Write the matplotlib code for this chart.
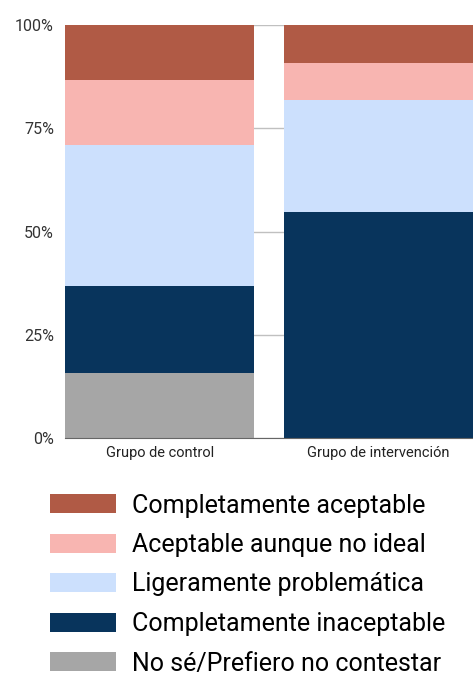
import matplotlib
matplotlib.use("Agg")
import matplotlib.pyplot as plt
import numpy as np

plt.rcParams['font.family'] = ['Roboto', 'DejaVu Sans']

groups = ['Grupo de control', 'Grupo de intervención']
categories = ['No sé/Prefiero no contestar', 'Completamente inaceptable',
              'Ligeramente problemática', 'Aceptable aunque no ideal',
              'Completamente aceptable']
no_se = [0.157, 0.0]
inaceptable = [0.211, 0.547]
ligeramente = [0.341, 0.271]
aceptable_no_ideal = [0.158, 0.090]
aceptable = [0.133, 0.092]
colors = ['#A6A6A6', '#08345C', '#CCE0FD', '#F8B5B1', '#B05A45']

series = [no_se, inaceptable, ligeramente, aceptable_no_ideal, aceptable]

fig = plt.figure(figsize=(4.73, 6.77), dpi=100)
ax = fig.add_axes([65/473, 1-438/677, 408/473, 413/677])

x = np.arange(len(groups))
bottom = np.zeros(len(groups))
handles = []
for vals, col, lab in zip(series, colors, categories):
    b = ax.bar(x, vals, bottom=bottom, width=0.867, color=col, label=lab, zorder=2)
    handles.append(b)
    bottom += np.array(vals)

ax.set_xlim(-0.4335, 1.4335)
ax.set_ylim(0, 1)
ax.set_yticks([0, 0.25, 0.5, 0.75, 1.0])
ax.set_yticklabels(['0%', '25%', '50%', '75%', '100%'], fontsize=11.5, color='#333333')
ax.set_xticks(x)
ax.set_xticklabels(groups, fontsize=10.5, color='#222222')
ax.tick_params(length=0, pad=6)
ax.tick_params(axis='y', pad=8)
ax.grid(axis='y', color='#C0C0C0', linewidth=1, zorder=0)
for s in ['top', 'right', 'left']:
    ax.spines[s].set_visible(False)
ax.spines['bottom'].set_color('#666666')
ax.spines['bottom'].set_zorder(3)

fig.legend(handles[::-1], categories[::-1], loc='upper left',
           bbox_to_anchor=(37/473, 1-481/677), frameon=False, fontsize=18,
           handlelength=2.65, handleheight=0.8, handletextpad=0.65,
           labelspacing=0.62, borderpad=0)

fig.savefig('out.png', dpi=100)
